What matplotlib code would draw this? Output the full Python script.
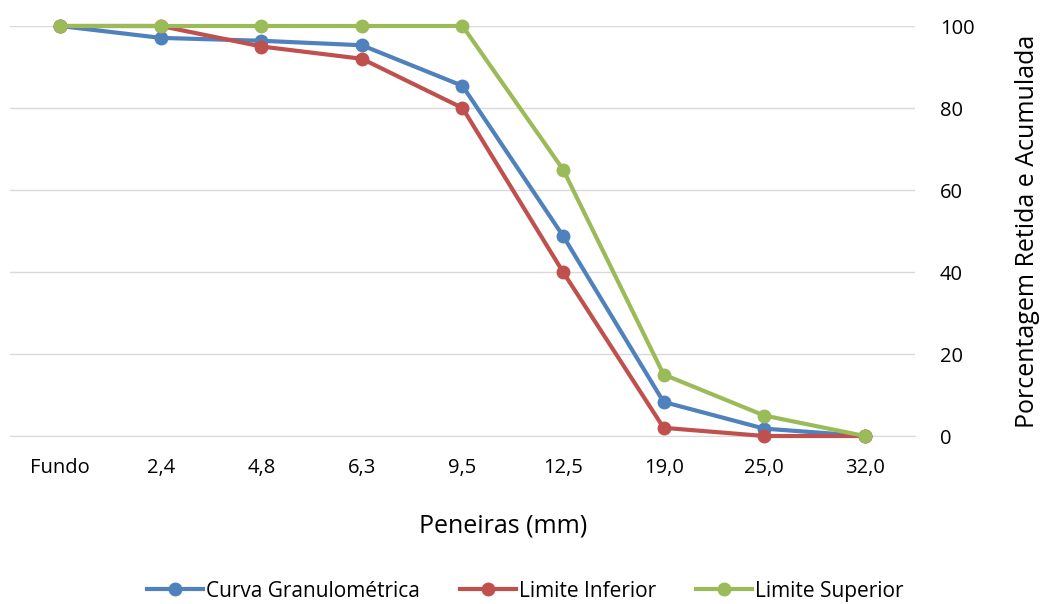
import matplotlib
matplotlib.use('Agg')
import matplotlib.pyplot as plt

plt.rcParams['font.family'] = ['Open Sans', 'DejaVu Sans']

peneiras = ['Fundo', '2,4', '4,8', '6,3', '9,5', '12,5', '19,0', '25,0', '32,0']
curva = [100, 97.1, 96.4, 95.3, 85.4, 48.8, 8.3, 1.8, 0]
lim_inf = [100, 100, 95, 92, 80, 40, 2, 0, 0]
lim_sup = [100, 100, 100, 100, 100, 65, 15, 5, 0]

series = [
    ('Curva Granulométrica', curva, '#4F81BD'),
    ('Limite Inferior', lim_inf, '#C0504D'),
    ('Limite Superior', lim_sup, '#9BBB59'),
]

fig = plt.figure(figsize=(10.4, 6.04), dpi=100)
ax = fig.add_axes([10 / 1040, 1 - 436 / 604, 905 / 1040, 410 / 604])

x = range(len(peneiras))
for name, vals, cor in series:
    ax.plot(x, vals, color=cor, lw=3, marker='o', ms=9, label=name,
            clip_on=False, zorder=3)

ax.set_xlim(-0.5, len(peneiras) - 0.5)
ax.set_ylim(0, 100)
ax.set_xticks(list(x))
ax.set_xticklabels(peneiras)
ax.set_yticks(range(0, 101, 20))
ax.yaxis.tick_right()
ax.yaxis.set_label_position('right')
ax.grid(axis='y', color='#d9d9d9', lw=1)
ax.set_axisbelow(True)
for s in ax.spines.values():
    s.set_visible(False)
ax.spines['bottom'].set_visible(True)
ax.spines['bottom'].set_color('#d9d9d9')
ax.tick_params(length=0, labelsize=14.5, colors='#000000')
ax.tick_params(axis='x', pad=16)
ax.tick_params(axis='y', pad=18)

ax.set_xlabel('Peneiras (mm)', fontsize=18)
ax.xaxis.set_label_coords(0.545, -0.19)
ax.set_ylabel('Porcentagem Retida e Acumulada', fontsize=18, labelpad=29)

fig.legend(loc='lower center', bbox_to_anchor=(0.505, -0.027), ncol=3,
           frameon=False, fontsize=15, handlelength=2.7, columnspacing=1.9,
           handletextpad=0.15)

fig.savefig('out.png', dpi=100)
